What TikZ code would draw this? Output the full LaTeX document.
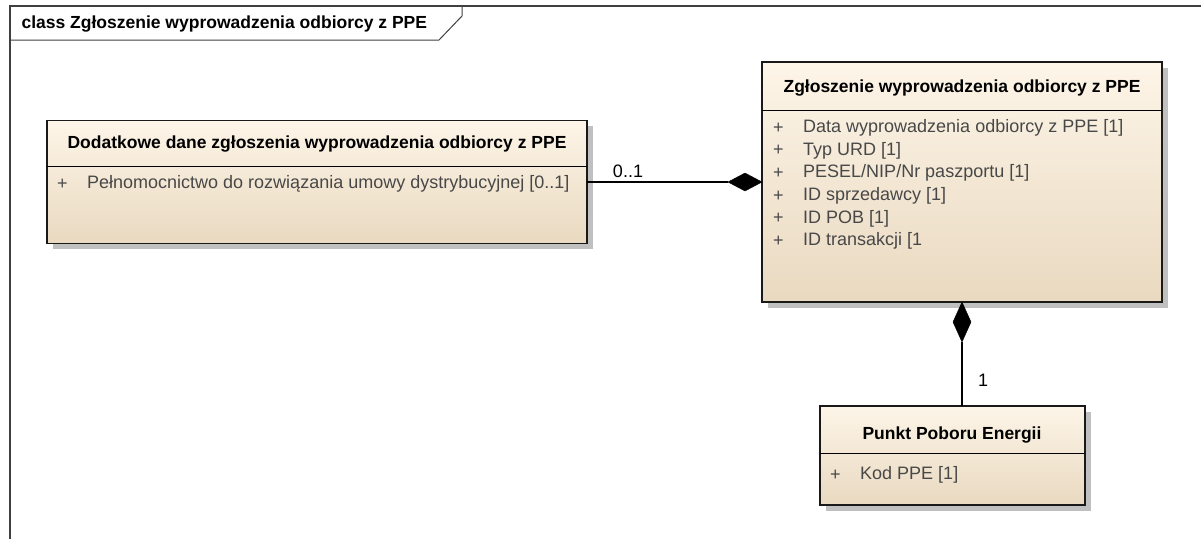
\documentclass[tikz,border=0pt]{standalone}
\usepackage{fontspec}
\setmainfont{Liberation Sans}
\definecolor{topfill}{HTML}{FDF5E8}
\definecolor{botfill}{HTML}{E9D9C0}
\definecolor{shad}{HTML}{C0C0C0}
\definecolor{attr}{HTML}{484848}
\tikzset{
  cls/.style={draw=black!90, line width=1.6pt, top color=topfill, bottom color=botfill, inner sep=0pt, outer sep=0pt},
  hdr/.style={font=\bfseries\fontsize{17.5}{19}\selectfont, text=black},
  att/.style={font=\fontsize{18}{20}\selectfont, text=attr, anchor=west, inner sep=0pt},
  conn/.style={line width=1.2pt, draw=black},
  lbl/.style={font=\fontsize{18}{20}\selectfont, text=black},
  dia/.style={fill=black, draw=black}
}
\begin{document}
\begin{tikzpicture}[x=1pt,y=-1pt]
\useasboundingbox (0,0) rectangle (1201,539);
% frame
\draw[line width=1.2pt, draw=black!75] (10,539) -- (10,6) -- (1201,6);
\draw[line width=1pt, draw=black!75] (10,40) -- (439,40) -- (462,16) -- (462,6);
\node[hdr, anchor=west] (title) at (18,24) {class Zgłoszenie wyprowadzenia odbiorcy z PPE};

% Box A
\fill[shad] (53,126) rectangle (593,249);
\node[cls, minimum width=540, minimum height=123] (A) at (317,182) {};
\draw[line width=1pt] (A.west |- 0,166) -- (A.east |- 0,166);
\node[hdr] (Ahdr) at (317,144) {Dodatkowe dane zgłoszenia wyprowadzenia odbiorcy z PPE};
\node[att] (Aplus) at (57,184) {+};
\node[att] (Aattr) at (87,184) {Pełnomocnictwo do rozwiązania umowy dystrybucyjnej [0..1]};

% Box B
\fill[shad] (768,68) rectangle (1168,308);
\node[cls, minimum width=400, minimum height=240] (B) at (962,182) {};
\draw[line width=1pt] (B.west |- 0,110) -- (B.east |- 0,110);
\node[hdr] (Bhdr) at (962,88) {Zgłoszenie wyprowadzenia odbiorcy z PPE};
\foreach \i/\t in {0/{Data wyprowadzenia odbiorcy z PPE [1]},1/{Typ URD [1]},2/{PESEL/NIP/Nr paszportu [1]},3/{ID sprzedawcy [1]},4/{ID POB [1]},5/{ID transakcji [1}}{
  \node[att] (Bp\i) at (773,128+22.6*\i) {+};
  \node[att] (Ba\i) at (803,128+22.6*\i) {\t};
}

% Box C
\fill[shad] (826,412) rectangle (1091,511);
\node[cls, minimum width=265, minimum height=99] (C) at (952.5,455.5) {};
\draw[line width=1pt] (C.west |- 0,453) -- (C.east |- 0,453);
\node[hdr] (Chdr) at (952,435) {Punkt Poboru Energii};
\node[att] (Cplus) at (830,475) {+};
\node[att] (Cattr) at (860,475) {Kod PPE [1]};

% connector A-B
\coordinate (d1) at (728,182);
\draw[conn] (A.east) -- (d1);
\draw[dia] (B.west) -- ++(-17,-9) -- (d1) -- ++(17,9) -- cycle;
\node[lbl] (l01) at (628,171) {0..1};

% connector C-B
\coordinate (d2) at (962,342);
\draw[conn] (B.south |- C.north) -- (d2);
\draw[dia] (B.south) -- ++(9,20) -- (d2) -- ++(-9,-20) -- cycle;
\node[lbl] (l1) at (983,380) {1};
\end{tikzpicture}
\end{document}
